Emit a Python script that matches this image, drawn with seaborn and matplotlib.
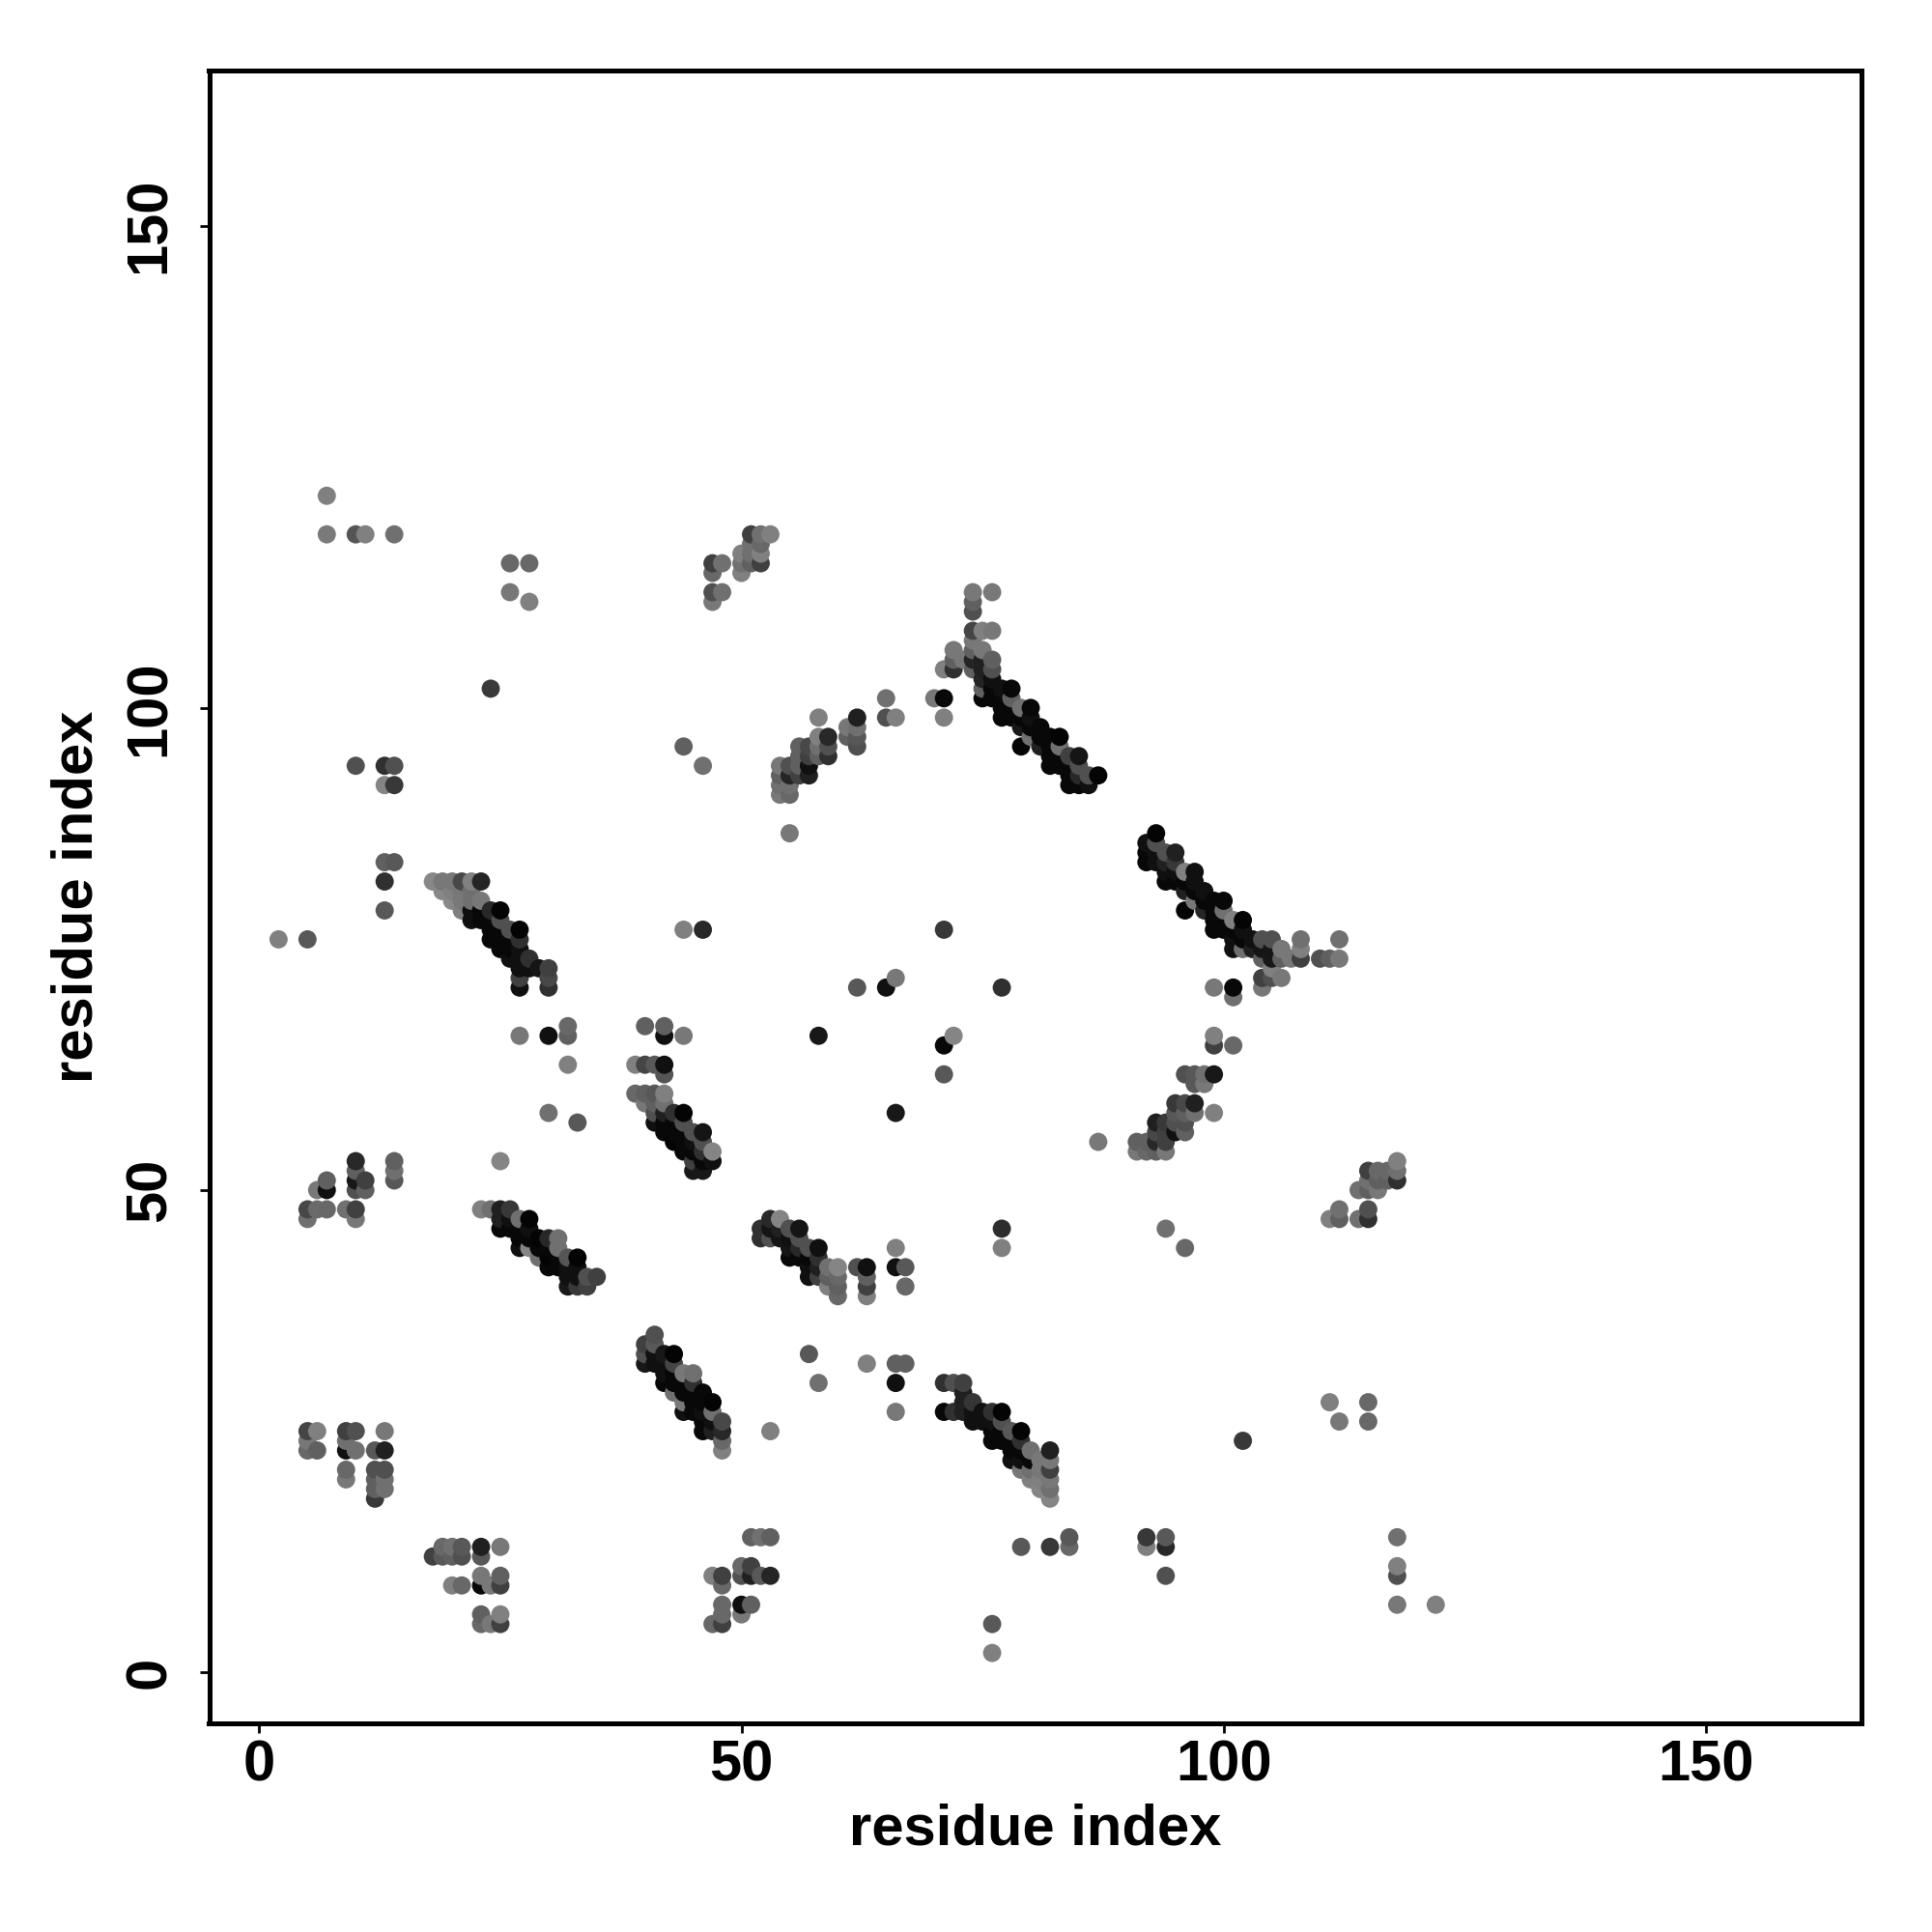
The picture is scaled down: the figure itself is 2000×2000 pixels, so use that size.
import matplotlib
matplotlib.use("Agg")
import matplotlib.pyplot as plt
import seaborn as sns
import pandas as pd

# every contact is (residue x, residue y, grey level 0-255)
isolated_upper = [
    (7,122,0x80),(7,118,0x7a),(10,118,0x55),(11,118,0x80),(14,118,0x70),
    (26,115,0x68),(28,115,0x68),(26,112,0x78),(28,111,0x80),(24,102,0x3a),
    (10,94,0x50),(13,94,0x30),(14,94,0x50),(13,92,0x85),(14,92,0x38),
    (13,84,0x60),(14,84,0x58),(13,82,0x30),(13,79,0x58),
    (2,76,0x80),(5,76,0x58),(44,96,0x60),(46,94,0x70),(44,77,0x80),(46,77,0x28),
    (55,87,0x78),(71,77,0x38),
]
cluster_47_53 = [
    (47,115,0x40),(48,115,0x70),(47,114,0x68),(47,112,0x50),(48,112,0x70),(47,111,0x78),
    (51,118,0x40),(52,118,0x70),(53,118,0x80),(51,117,0x70),(52,117,0x68),
    (50,116,0x80),(51,116,0x70),(52,116,0x80),(50,115,0x70),(51,115,0x60),(52,115,0x40),(50,114,0x80),
]
strand_18_30 = [
    (18,82,0x88),(19,82,0x78),(20,82,0x78),(21,82,0x48),(22,82,0x80),(23,82,0x25),
    (19,81,0x88),(20,81,0x80),(21,81,0x78),(22,81,0x70),
    (20,80,0x88),(21,80,0x78),(22,80,0x70),(23,80,0x78),
    (21,79,0x80),(22,79,0x10),(23,79,0x08),(24,79,0x28),(25,79,0x04),
    (22,78,0x10),(23,78,0x08),(24,78,0x08),(25,78,0x50),
    (24,77,0x08),(25,77,0x08),(26,77,0x50),(27,77,0x04),
    (24,76,0x08),(25,76,0x08),(26,76,0x08),(27,76,0x30),
    (25,75,0x08),(26,75,0x08),(27,75,0x10),
    (26,74,0x10),(27,74,0x10),(28,74,0x30),
    (27,73,0x10),(28,73,0x10),(29,73,0x15),(30,73,0x40),
    (27,72,0x40),(30,72,0x48),(27,71,0x10),(30,71,0x30),
]
isolated_middle = [
    (27,66,0x78),(30,66,0x10),(32,67,0x68),(32,66,0x60),(32,63,0x80),(30,58,0x70),(33,57,0x58),(25,53,0x85),
    (40,67,0x60),(42,67,0x60),(42,66,0x10),(44,66,0x78),
    (58,66,0x18),(71,65,0x08),(72,66,0x85),(71,62,0x58),(66,58,0x18),
    (62,71,0x58),(65,71,0x10),(66,72,0x78),(77,71,0x30),
    (77,46,0x2d),(77,44,0x80),(94,46,0x70),(96,44,0x68),(87,55,0x78),
]
strand_39_47 = [
    (39,63,0x80),(40,63,0x45),(41,63,0x58),(42,63,0x10),(42,62,0x55),
    (39,60,0x68),(40,60,0x60),(41,60,0x58),(42,60,0x80),(40,59,0x78),(41,59,0x60),(42,59,0x70),
    (41,58,0x50),(42,58,0x20),(43,58,0x30),(44,58,0x04),
    (41,57,0x10),(42,57,0x08),(43,57,0x08),(44,57,0x50),
    (42,56,0x08),(43,56,0x08),(44,56,0x08),(45,56,0x50),(46,56,0x15),
    (43,55,0x04),(44,55,0x08),(45,55,0x10),(46,55,0x50),
    (44,54,0x08),(45,54,0x08),(46,54,0x30),(47,54,0x85),
    (45,53,0x40),(46,53,0x08),(47,53,0x10),(45,52,0x18),(46,52,0x18),
]
cluster_5_14_top = [
    (10,53,0x28),(10,52,0x60),(10,51,0x18),(11,51,0x40),(10,50,0x50),(11,50,0x60),
    (14,53,0x60),(14,52,0x70),(14,51,0x58),(7,51,0x60),(7,50,0x10),(6,50,0x78),
    (5,48,0x48),(6,48,0x6a),(7,48,0x68),(9,48,0x70),(10,48,0x40),(5,47,0x70),(10,47,0x78),
]
strand_23_35 = [
    (23,48,0x80),(24,48,0x70),(25,48,0x20),(26,48,0x38),
    (25,47,0x20),(26,47,0x10),(27,47,0x70),(28,47,0x04),
    (25,46,0x08),(26,46,0x08),(27,46,0x08),(28,46,0x10),
    (27,45,0x08),(28,45,0x08),(29,45,0x04),(30,45,0x28),(31,45,0x70),
    (27,44,0x10),(28,44,0x85),(29,44,0x08),(30,44,0x08),(31,44,0x70),
    (29,43,0x70),(30,43,0x04),(31,43,0x08),(32,43,0x55),(33,43,0x04),
    (30,42,0x08),(31,42,0x08),(32,42,0x10),(33,42,0x10),
    (32,41,0x10),(33,41,0x10),(34,41,0x50),(35,41,0x40),
    (32,40,0x18),(33,40,0x38),(34,40,0x40),
]
strand_52_60 = [
    (53,47,0x28),(54,47,0x85),(52,46,0x30),(53,46,0x15),(54,46,0x20),(55,46,0x50),(56,46,0x15),
    (52,45,0x30),(53,45,0x50),(54,45,0x15),(55,45,0x10),(56,45,0x50),
    (55,44,0x15),(56,44,0x28),(57,44,0x50),(58,44,0x10),
    (55,43,0x08),(56,43,0x08),(57,43,0x08),(58,43,0x30),
    (57,42,0x10),(58,42,0x20),(59,42,0x70),(60,42,0x85),
    (57,41,0x10),(58,41,0x40),(59,41,0x60),(60,41,0x68),
    (59,40,0x80),(60,40,0x60),(60,39,0x68),
]
cluster_62_67 = [
    (62,42,0x50),(63,42,0x10),(63,41,0x60),(63,40,0x40),(63,39,0x80),
    (66,44,0x80),(66,42,0x10),(67,42,0x58),(67,40,0x68),
]
strand_40_48 = [
    (41,35,0x50),(40,34,0x40),(41,34,0x58),(40,33,0x50),(41,33,0x10),(42,33,0x18),(43,33,0x04),
    (40,32,0x18),(41,32,0x10),(42,32,0x10),(43,32,0x45),
    (42,31,0x10),(43,31,0x08),(44,31,0x78),(45,31,0x70),
    (42,30,0x08),(43,30,0x08),(44,30,0x08),(45,30,0x30),
    (43,29,0x70),(44,29,0x08),(45,29,0x08),(46,29,0x08),
    (44,28,0x78),(45,28,0x08),(46,28,0x08),(47,28,0x04),
    (44,27,0x10),(45,27,0x08),(46,27,0x10),(47,27,0x70),
    (46,26,0x08),(47,26,0x10),(48,26,0x48),
    (46,25,0x08),(47,25,0x20),(48,25,0x28),(48,24,0x68),(48,23,0x80),
]
isolated_lower = [
    (57,33,0x58),(58,30,0x70),(63,32,0x80),(66,32,0x60),(67,32,0x60),(66,30,0x10),(66,27,0x78),(53,25,0x80),
    (79,13,0x58),(82,13,0x38),(84,14,0x58),(84,13,0x68),(76,5,0x58),(76,2,0x80),
    (111,28,0x80),(115,28,0x68),(112,26,0x78),(115,26,0x68),(102,24,0x38),
    (92,14,0x38),(94,14,0x58),(92,13,0x80),(94,13,0x28),(94,10,0x50),
    (118,14,0x70),(118,11,0x80),(118,10,0x50),(118,7,0x78),(122,7,0x80),
]
strand_71_82 = [
    (71,30,0x30),(72,30,0x50),(73,30,0x40),(73,29,0x20),(73,28,0x20),(74,28,0x35),
    (71,27,0x08),(72,27,0x30),(73,27,0x20),(74,27,0x10),(75,27,0x10),(76,27,0x30),(77,27,0x04),
    (74,26,0x10),(75,26,0x10),(76,26,0x10),(77,26,0x50),
    (76,25,0x08),(77,25,0x08),(78,25,0x58),(79,25,0x04),
    (76,24,0x08),(77,24,0x08),(78,24,0x08),(79,24,0x30),
    (78,23,0x08),(79,23,0x08),(80,23,0x70),(82,23,0x20),
    (78,22,0x10),(79,22,0x10),(80,22,0x08),(81,22,0x78),(82,22,0x78),
    (79,21,0x78),(80,21,0x70),(81,21,0x78),(82,21,0x40),
    (80,20,0x80),(81,20,0x80),(82,20,0x78),(81,19,0x85),(82,19,0x70),(82,18,0x85),
]
cluster_5_13_low = [
    (5,25,0x45),(6,25,0x80),(5,24,0x78),(5,23,0x68),(6,23,0x60),
    (9,25,0x40),(10,25,0x50),(9,24,0x70),(9,23,0x10),(10,23,0x70),
    (13,25,0x78),(12,23,0x58),(13,23,0x20),(9,21,0x68),(9,20,0x78),
    (12,21,0x50),(13,21,0x50),(12,20,0x60),(13,20,0x70),(12,19,0x60),(13,19,0x70),(12,18,0x38),
]
cluster_18_25_low = [
    (18,12,0x40),(19,13,0x68),(20,13,0x70),(21,13,0x58),(19,12,0x58),(20,12,0x60),(21,12,0x50),
    (23,13,0x20),(25,13,0x78),(23,12,0x58),
    (20,9,0x80),(21,9,0x68),(23,10,0x78),(25,10,0x60),(23,9,0x08),(24,9,0x78),(25,9,0x40),
    (23,6,0x60),(25,6,0x80),(23,5,0x68),(24,5,0x78),(25,5,0x40),
]
cluster_47_53_low = [
    (51,14,0x60),(52,14,0x70),(53,14,0x60),(50,11,0x68),(51,11,0x40),
    (50,10,0x50),(51,10,0x20),(52,10,0x58),(53,10,0x25),(47,10,0x80),(48,10,0x40),(48,9,0x68),
    (48,7,0x68),(48,6,0x68),(48,5,0x40),(47,5,0x68),(50,7,0x10),(51,7,0x60),(50,6,0x78),
]
strand_71_87 = [
    (74,112,0x78),(76,112,0x78),(74,111,0x60),(74,110,0x50),
    (74,108,0x45),(75,108,0x80),(76,108,0x78),(74,107,0x78),
    (72,106,0x78),(74,106,0x60),(75,106,0x78),(72,105,0x60),(73,105,0x78),(74,105,0x25),(75,105,0x20),(76,105,0x60),
    (71,104,0x80),(72,104,0x30),(74,104,0x60),(75,104,0x20),(76,104,0x50),
    (75,103,0x25),(76,103,0x10),(75,102,0x60),(76,102,0x08),(77,102,0x10),(78,102,0x08),
    (75,101,0x08),(76,101,0x08),(77,101,0x08),(78,101,0x60),
    (77,100,0x08),(78,100,0x08),(79,100,0x70),(80,100,0x08),
    (77,99,0x08),(78,99,0x08),(79,99,0x08),(80,99,0x10),
    (79,98,0x18),(80,98,0x08),(81,98,0x08),(80,97,0x70),(81,97,0x08),(82,97,0x08),(83,97,0x04),
    (79,96,0x04),(81,96,0x20),(82,96,0x08),(83,96,0x70),
    (82,95,0x08),(83,95,0x08),(84,95,0x40),(85,95,0x15),
    (82,94,0x08),(83,94,0x08),(84,94,0x08),(85,94,0x50),
    (84,93,0x08),(85,93,0x28),(86,93,0x50),(87,93,0x04),
    (84,92,0x08),(85,92,0x08),(86,92,0x10),
]
cluster_54_71 = [
    (70,101,0x78),(71,101,0x08),(71,99,0x80),(65,101,0x70),(65,99,0x50),(66,99,0x80),
    (62,99,0x20),(58,99,0x80),(61,98,0x78),(62,98,0x70),(61,97,0x60),(62,97,0x58),(62,96,0x50),
    (58,97,0x80),(59,97,0x28),(58,96,0x70),(59,96,0x50),(58,95,0x60),(59,95,0x30),
    (56,96,0x60),(57,96,0x48),(56,95,0x60),(57,95,0x40),(55,94,0x50),(54,94,0x78),(56,94,0x60),(57,94,0x10),
    (54,93,0x60),(55,93,0x25),(56,93,0x40),(57,93,0x20),
    (54,92,0x70),(55,92,0x70),(54,91,0x78),(55,91,0x68),
]
strand_92_112 = [
    (93,87,0x04),(92,86,0x10),(93,86,0x50),(92,85,0x08),(93,85,0x10),(94,85,0x50),(95,85,0x20),
    (92,84,0x08),(93,84,0x10),(94,84,0x20),(95,84,0x38),
    (94,83,0x10),(95,83,0x10),(96,83,0x80),(97,83,0x10),
    (94,82,0x08),(95,82,0x08),(96,82,0x08),(97,82,0x10),
    (96,81,0x20),(97,81,0x08),(98,81,0x10),
    (97,80,0x78),(98,80,0x08),(99,80,0x08),(100,80,0x08),
    (96,79,0x04),(98,79,0x25),(99,79,0x08),(100,79,0x70),
    (99,78,0x08),(100,78,0x08),(101,78,0x80),(102,78,0x04),
    (99,77,0x08),(100,77,0x08),(101,77,0x08),(102,77,0x10),
    (101,76,0x10),(102,76,0x08),(103,76,0x10),(104,76,0x50),(105,76,0x50),(108,76,0x70),(112,76,0x70),
    (101,75,0x10),(102,75,0x70),(103,75,0x20),(104,75,0x15),(105,75,0x15),(106,75,0x78),(108,75,0x80),
    (104,74,0x60),(105,74,0x18),(106,74,0x60),(107,74,0x78),(108,74,0x40),
    (110,74,0x50),(111,74,0x60),(112,74,0x78),
    (105,73,0x80),(104,72,0x40),(105,72,0x50),(106,72,0x78),(104,71,0x78),
]
cluster_91_101 = [
    (99,71,0x78),(101,71,0x08),(101,70,0x70),(99,66,0x80),(99,65,0x40),(101,65,0x68),
    (96,62,0x50),(97,62,0x58),(98,62,0x70),(99,62,0x18),(97,61,0x58),(98,61,0x78),
    (95,59,0x38),(96,59,0x48),(97,59,0x20),(95,58,0x58),(96,58,0x60),(97,58,0x70),(99,58,0x80),
    (93,57,0x20),(94,57,0x38),(95,57,0x50),(96,57,0x50),
    (93,56,0x48),(94,56,0x40),(95,56,0x10),(96,56,0x60),
    (91,55,0x60),(92,55,0x60),(93,55,0x28),(94,55,0x40),
    (91,54,0x78),(92,54,0x68),(93,54,0x60),(94,54,0x78),
]
cluster_111_118 = [
    (118,53,0x80),(115,52,0x40),(116,52,0x68),(117,52,0x68),(118,52,0x70),
    (115,51,0x70),(116,51,0x60),(117,51,0x60),(118,51,0x30),
    (114,50,0x70),(115,50,0x60),(116,50,0x78),(112,48,0x70),(115,48,0x50),
    (111,47,0x80),(112,47,0x60),(114,47,0x70),(115,47,0x30),
]

tick_values = [0, 50, 100, 150]
axis_label = "residue index"

contacts = pd.DataFrame(
    isolated_upper + cluster_47_53 + strand_18_30 + isolated_middle + strand_39_47
    + cluster_5_14_top + strand_23_35 + strand_52_60 + cluster_62_67 + strand_40_48
    + isolated_lower + strand_71_82 + cluster_5_13_low + cluster_18_25_low
    + cluster_47_53_low + strand_71_87 + cluster_54_71 + strand_92_112
    + cluster_91_101 + cluster_111_118,
    columns=["x", "y", "shade"],
).sort_values(["x", "y"])

sns.set_theme(style="white")
plt.rcParams["font.family"] = ["Liberation Sans", "DejaVu Sans"]
plt.rcParams["font.weight"] = "bold"

fig = plt.figure(figsize=(20, 20), dpi=100)
ax = fig.add_axes([216.5 / 2000, 1 - 1784 / 2000, 1710.5 / 2000, 1711 / 2000])

sns.scatterplot(data=contacts, x="x", y="y", hue="shade", palette="gray",
                hue_norm=(0, 255), s=185, linewidth=0, legend=False, ax=ax)

ax.set_xlim(-5.2, 166.15)
ax.set_ylim(-5.3, 166.1)
ax.set_xticks(tick_values)
ax.set_yticks(tick_values)
ax.tick_params(length=7, width=2, color="black", labelcolor="black", labelsize=43, left=True, bottom=True)
ax.tick_params(axis="x", pad=5)
ax.tick_params(axis="y", pad=17)
plt.setp(ax.get_yticklabels(), rotation=90, va="center")
ax.set_xlabel(axis_label, fontsize=43, fontweight="bold", color="black", va="center")
ax.set_ylabel(axis_label, fontsize=43, fontweight="bold", color="black", va="center")
ax.xaxis.set_label_coords(0.5, -0.0643)
ax.yaxis.set_label_coords(-0.080, 0.5)
for side in ax.spines.values():
    side.set_linewidth(3.6)
    side.set_color("black")

plt.savefig("out.png", dpi=100)
